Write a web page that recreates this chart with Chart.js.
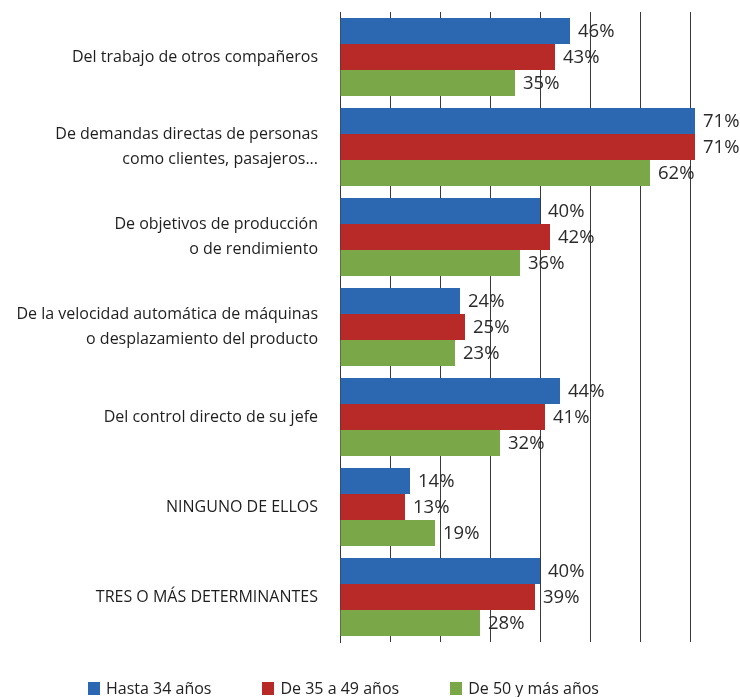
<!DOCTYPE html>
<html>
<head>
<meta charset="utf-8">
<script src="https://cdn.jsdelivr.net/npm/chart.js@4"></script>
<style>
  body { margin: 0; background: #fff; }
  #wrap { position: relative; width: 740px; height: 697px; }
  #leyenda {
    position: absolute; left: 88px; top: 677px;
    display: flex; font-family: "Open Sans", sans-serif; font-size: 16px; color: #222;
  }
  #leyenda span.item { display: flex; align-items: center; margin-right: 51px; }
  #leyenda span.cuadro { display: inline-block; width: 12px; height: 13px; margin-right: 6px; }
</style>
</head>
<body>
<div id="wrap">
  <canvas id="grafico" width="740" height="697"></canvas>
  <div id="leyenda"></div>
</div>
<script>
const categorias = [
  "Del trabajo de otros compañeros",
  ["De demandas directas de personas", "como clientes, pasajeros..."],
  ["De objetivos de producción", "o de rendimiento"],
  ["De la velocidad automática de máquinas", "o desplazamiento del producto"],
  "Del control directo de su jefe",
  "NINGUNO DE ELLOS",
  "TRES O MÁS DETERMINANTES"
];
const series = ["Hasta 34 años", "De 35 a 49 años", "De 50 y más años"];
const hasta34 = [46, 71, 40, 24, 44, 14, 40];
const de35a49 = [43, 71, 42, 25, 41, 13, 39];
const de50 = [35, 62, 36, 23, 32, 19, 28];
const colores = ["#2c67b2", "#b72a27", "#7aa848"];

// etiquetas de porcentaje al final de cada barra
const etiquetasPlugin = {
  id: "etiquetas",
  afterDatasetsDraw(chart) {
    const ctx = chart.ctx;
    ctx.save();
    ctx.font = "18.5px 'Open Sans', sans-serif";
    ctx.fillStyle = "#2a2a2a";
    ctx.textBaseline = "middle";
    chart.data.datasets.forEach((ds, i) => {
      chart.getDatasetMeta(i).data.forEach((bar, j) => {
        ctx.fillText(ds.data[j] + "%", bar.x + 8, bar.y + 1);
      });
    });
    ctx.restore();
  }
};

const ctx = document.getElementById("grafico").getContext("2d");
new Chart(ctx, {
  type: "bar",
  data: {
    labels: categorias,
    datasets: [hasta34, de35a49, de50].map((d, i) => ({
      label: series[i],
      data: d,
      backgroundColor: colores[i],
      categoryPercentage: 0.867,
      barPercentage: 1
    }))
  },
  options: {
    indexAxis: "y",
    responsive: false,
    animation: false,
    layout: { padding: { top: 12, bottom: 55, right: 0 } },
    plugins: { legend: { display: false }, tooltip: { enabled: false } },
    scales: {
      x: {
        min: 0, max: 80,
        ticks: { display: false, stepSize: 10 },
        grid: { color: "#3a3a3a", lineWidth: 1, drawTicks: false },
        border: { display: false }
      },
      y: {
        afterFit(scale) {
          scale.width = 340;
          scale.paddingTop = 0;
          scale.paddingBottom = 0;
        },
        grid: { display: false, drawTicks: false },
        border: { display: true, color: "#3a3a3a" },
        ticks: {
          color: "#1e1e1e",
          padding: 22,
          font: { family: "'Open Sans', sans-serif", size: 16, lineHeight: 1.55 }
        }
      }
    }
  },
  plugins: [etiquetasPlugin]
});

const leyenda = document.getElementById("leyenda");
series.forEach((s, i) => {
  const item = document.createElement("span");
  item.className = "item";
  item.innerHTML = '<span class="cuadro" style="background:' + colores[i] + '"></span>' + s;
  leyenda.appendChild(item);
});
</script>
</body>
</html>
